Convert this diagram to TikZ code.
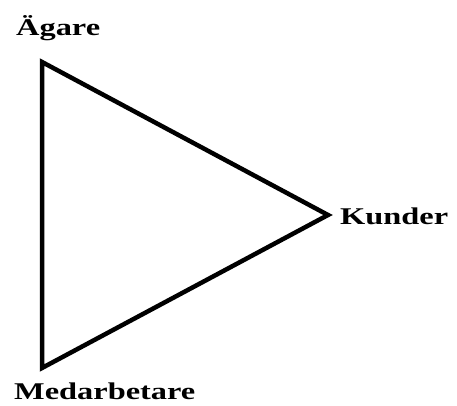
\documentclass[tikz,border=0pt]{standalone}
\usepackage{fontspec}
\setmainfont{Liberation Serif}[FakeStretch=1.35]
\begin{document}
\begin{tikzpicture}[x=1pt,y=1pt,
  lab/.style={inner sep=0pt,anchor=base west,font=\fontsize{24}{26}\selectfont\bfseries},
  edge/.style={line width=4.5pt,line join=miter}]
\useasboundingbox (0,0) rectangle (457,405);
\coordinate (A) at (42,343);
\coordinate (K) at (328,190);
\coordinate (M) at (42,37);
\draw[edge] (A) -- (K) -- (M) -- cycle;
\node[lab] (tA) at (16,369) {Ägare};
\node[lab] (tK) at (340,181) {Kunder};
\node[lab] (tM) at (14,6) {Medarbetare};
\end{tikzpicture}
\end{document}
